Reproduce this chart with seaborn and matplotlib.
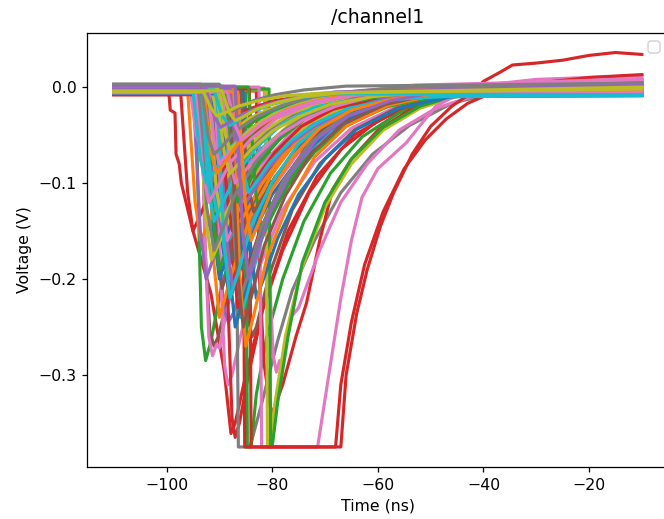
import matplotlib
matplotlib.use("Agg")
import matplotlib.pyplot as plt
import seaborn as sns
import pandas as pd

# ---- channel 1 waveforms: (time in ns, voltage in V) ----
trace_f01 = [(-110, -0.006), (-92.5, -0.006), (-91.1, -0.15), (-90.0, -0.20), (-88.5, -0.176), (-86.0, -0.132), (-82.0, -0.090), (-77.0, -0.054), (-71.0, -0.030), (-63.0, -0.016), (-53.0, -0.009), (-10, -0.004)]
trace_f02 = [(-110, -0.004), (-96.0, -0.004), (-94.6, -0.12), (-93.5, -0.16), (-92.0, -0.141), (-89.5, -0.106), (-85.5, -0.072), (-80.5, -0.043), (-74.5, -0.024), (-66.5, -0.013), (-56.5, -0.007), (-10, -0.002)]
trace_f03 = [(-110, -0.003), (-91.0, -0.003), (-89.6, -0.105), (-88.5, -0.14), (-87.0, -0.123), (-84.5, -0.092), (-80.5, -0.063), (-75.5, -0.038), (-69.5, -0.021), (-61.5, -0.011), (-51.5, -0.005), (-10, 0.002)]
trace_f04 = [(-110, -0.007), (-89.0, -0.007), (-87.6, -0.17), (-86.5, -0.23), (-85.0, -0.202), (-82.5, -0.152), (-78.5, -0.104), (-73.5, -0.062), (-67.5, -0.035), (-59.5, -0.018), (-49.5, -0.010), (-10, -0.005)]
trace_f05 = [(-110, -0.002), (-93.0, -0.002), (-91.6, -0.09), (-90.5, -0.12), (-89.0, -0.106), (-86.5, -0.079), (-82.5, -0.054), (-77.5, -0.032), (-71.5, -0.018), (-63.5, -0.009), (-53.5, -0.003), (-10, 0.004)]
trace_f06 = [(-110, -0.005), (-90.0, -0.005), (-88.6, -0.135), (-87.5, -0.18), (-86.0, -0.158), (-83.5, -0.119), (-79.5, -0.081), (-74.5, -0.049), (-68.5, -0.027), (-60.5, -0.014), (-50.5, -0.007), (-10, -0.001)]
trace_f07 = [(-110, -0.004), (-95.5, -0.004), (-94.4, -0.049), (-93.5, -0.065), (-92.0, -0.057), (-89.5, -0.043), (-85.5, -0.029), (-80.5, -0.018), (-74.5, -0.010), (-66.5, -0.006), (-56.5, -0.003), (-10, 0.003)]
trace_f08 = [(-110, 0.001), (-92.0, 0.001), (-90.4, -0.075), (-89.0, -0.10), (-87.5, -0.088), (-85.0, -0.066), (-81.0, -0.045), (-76.0, -0.027), (-70.0, -0.015), (-62.0, -0.006), (-52.0, -0.001), (-10, 0.003)]
trace_f09 = [(-110, -0.003), (-93.3, -0.003), (-91.5, -0.06), (-89.3, -0.10), (-87.8, -0.088), (-85.3, -0.066), (-81.3, -0.045), (-76.3, -0.027), (-70.3, -0.016), (-62.3, -0.008), (-52.3, -0.004), (-10, 0.000)]
trace_f10 = [(-110, -0.002), (-92.0, -0.002), (-90.4, -0.12), (-89.0, -0.17), (-87.5, -0.150), (-85.0, -0.112), (-81.0, -0.077), (-76.0, -0.046), (-70.0, -0.026), (-62.0, -0.013), (-52.0, -0.007), (-10, -0.006)]
trace_f11 = [(-110, -0.005), (-89.5, -0.005), (-88.1, -0.19), (-87.0, -0.25), (-85.5, -0.220), (-83.0, -0.165), (-79.0, -0.113), (-74.0, -0.068), (-68.0, -0.038), (-60.0, -0.019), (-50.0, -0.010), (-10, -0.007)]
trace_f12 = [(-110, -0.003), (-90.5, -0.003), (-89.1, -0.15), (-88.0, -0.20), (-86.5, -0.176), (-84.0, -0.132), (-80.0, -0.090), (-75.0, -0.054), (-69.0, -0.030), (-61.0, -0.015), (-51.0, -0.007), (-10, -0.002)]
trace_f13 = [(-110, -0.004), (-94.0, -0.004), (-92.6, -0.06), (-91.5, -0.08), (-90.0, -0.070), (-87.5, -0.053), (-83.5, -0.036), (-78.5, -0.022), (-72.5, -0.013), (-64.5, -0.008), (-54.5, -0.005), (-10, -0.004)]
trace_f14 = [(-110, -0.006), (-95.0, -0.006), (-93.6, -0.038), (-92.5, -0.05), (-91.0, -0.044), (-88.5, -0.033), (-84.5, -0.023), (-79.5, -0.014), (-73.5, -0.009), (-65.5, -0.006), (-55.5, -0.004), (-10, 0.001)]
trace_f15 = [(-110, 0.002), (-90.0, 0.002), (-88.6, -0.16), (-87.5, -0.21), (-86.0, -0.185), (-83.5, -0.139), (-79.5, -0.095), (-74.5, -0.057), (-68.5, -0.031), (-60.5, -0.013), (-50.5, -0.003), (-10, 0.005)]
trace_f16 = [(-110, -0.004), (-94.5, -0.004), (-93.1, -0.083), (-92.0, -0.11), (-90.5, -0.097), (-88.0, -0.073), (-84.0, -0.050), (-79.0, -0.030), (-73.0, -0.017), (-65.0, -0.009), (-55.0, -0.005), (-10, -0.002)]
trace_f17 = [(-110, -0.005), (-91.0, -0.005), (-89.6, -0.12), (-88.5, -0.16), (-87.0, -0.141), (-84.5, -0.106), (-80.5, -0.072), (-75.5, -0.043), (-69.5, -0.024), (-61.5, -0.011), (-51.5, -0.002), (-10, 0.006)]
trace_f18 = [(-110, 0.000), (-88.5, 0.000), (-87.1, -0.165), (-86.0, -0.22), (-84.5, -0.194), (-82.0, -0.145), (-78.0, -0.099), (-73.0, -0.059), (-67.0, -0.033), (-59.0, -0.015), (-49.0, -0.005), (-10, 0.000)]
trace_f19 = [(-110, -0.004), (-91.5, -0.004), (-89.9, -0.038), (-88.5, -0.05), (-87.0, -0.044), (-84.5, -0.033), (-80.5, -0.023), (-75.5, -0.014), (-69.5, -0.009), (-61.5, -0.006), (-51.5, -0.004), (-10, -0.003)]
trace_f20 = [(-110, -0.003), (-93.5, -0.003), (-92.1, -0.105), (-91.0, -0.14), (-89.5, -0.123), (-87.0, -0.092), (-83.0, -0.063), (-78.0, -0.038), (-72.0, -0.021), (-64.0, -0.012), (-54.0, -0.008), (-10, -0.008)]
trace_f21 = [(-110, -0.007), (-88.0, -0.007), (-86.6, -0.135), (-85.5, -0.18), (-84.0, -0.158), (-81.5, -0.119), (-77.5, -0.081), (-72.5, -0.049), (-66.5, -0.027), (-58.5, -0.015), (-48.5, -0.010), (-10, -0.009)]
trace_f22 = [(-110, -0.002), (-87.5, -0.002), (-86.1, -0.20), (-85.0, -0.27), (-83.5, -0.238), (-81.0, -0.178), (-77.0, -0.122), (-72.0, -0.073), (-66.0, -0.041), (-58.0, -0.019), (-48.0, -0.007), (-10, 0.000)]
trace_f23 = [(-110, -0.005), (-89.0, -0.005), (-87.6, -0.09), (-86.5, -0.12), (-85.0, -0.106), (-82.5, -0.079), (-78.5, -0.054), (-73.5, -0.032), (-67.5, -0.018), (-59.5, -0.010), (-49.5, -0.005), (-10, -0.003)]
trace_f24 = [(-110, -0.003), (-88.0, -0.003), (-86.6, -0.19), (-85.5, -0.25), (-84.0, -0.220), (-81.5, -0.165), (-77.5, -0.113), (-72.5, -0.068), (-66.5, -0.038), (-58.5, -0.018), (-48.5, -0.006), (-10, 0.002)]
trace_f25 = [(-110, -0.004), (-90.5, -0.004), (-89.1, -0.165), (-88.0, -0.22), (-86.5, -0.194), (-84.0, -0.145), (-80.0, -0.099), (-75.0, -0.059), (-69.0, -0.033), (-61.0, -0.016), (-51.0, -0.009), (-10, -0.007)]
trace_f26 = [(-110, 0.002), (-94.0, 0.002), (-92.4, -0.125), (-91.0, -0.17), (-89.5, -0.150), (-87.0, -0.112), (-83.0, -0.077), (-78.0, -0.046), (-72.0, -0.025), (-64.0, -0.011), (-54.0, -0.003), (-10, 0.002)]
trace_f27 = [(-110, -0.004), (-92.0, -0.004), (-90.9, -0.06), (-90.0, -0.08), (-88.5, -0.070), (-86.0, -0.053), (-82.0, -0.036), (-77.0, -0.022), (-71.0, -0.012), (-63.0, -0.004), (-53.0, 0.002), (-10, 0.008)]
trace_f28 = [(-110, -0.002), (-90.0, -0.002), (-88.9, -0.049), (-88.0, -0.065), (-86.5, -0.057), (-84.0, -0.043), (-80.0, -0.029), (-75.0, -0.018), (-69.0, -0.010), (-61.0, -0.005), (-51.0, -0.002), (-10, 0.001)]
trace_f29 = [(-110, -0.005), (-86.5, -0.005), (-85.1, -0.12), (-84.0, -0.16), (-82.5, -0.141), (-80.0, -0.106), (-76.0, -0.072), (-71.0, -0.043), (-65.0, -0.024), (-57.0, -0.012), (-47.0, -0.006), (-10, -0.004)]
trace_f30 = [(-110, 0.001), (-87.0, 0.001), (-85.6, -0.15), (-84.5, -0.20), (-83.0, -0.176), (-80.5, -0.132), (-76.5, -0.090), (-71.5, -0.054), (-65.5, -0.030), (-57.5, -0.014), (-47.5, -0.004), (-10, 0.003)]
trace_f31 = [(-110, -0.008), (-97.3, -0.008), (-96.0, -0.11), (-95.0, -0.15), (-93.5, -0.132), (-91.0, -0.099), (-87.0, -0.068), (-82.0, -0.041), (-76.0, -0.023), (-68.0, -0.013), (-58.0, -0.008), (-10, -0.006)]

trace_g01 = [(-110, -0.005), (-93.0, -0.005), (-91.6, -0.100), (-90.5, -0.13), (-89.0, -0.117), (-86.5, -0.094), (-82.5, -0.066), (-77.5, -0.044), (-71.5, -0.026), (-63.5, -0.015), (-53.5, -0.009), (-10, -0.007)]
trace_g02 = [(-110, -0.006), (-91.5, -0.006), (-89.9, -0.120), (-88.5, -0.16), (-87.0, -0.144), (-84.5, -0.115), (-80.5, -0.082), (-75.5, -0.054), (-69.5, -0.032), (-61.5, -0.018), (-51.5, -0.010), (-10, -0.008)]
trace_g03 = [(-110, -0.004), (-89.0, -0.004), (-87.4, -0.105), (-86.0, -0.14), (-84.5, -0.126), (-82.0, -0.101), (-78.0, -0.071), (-73.0, -0.048), (-67.0, -0.028), (-59.0, -0.014), (-49.0, -0.006), (-10, -0.001)]
trace_g04 = [(-110, -0.003), (-92.5, -0.003), (-91.1, -0.140), (-90.0, -0.19), (-88.5, -0.167), (-86.0, -0.125), (-82.0, -0.086), (-77.0, -0.051), (-71.0, -0.029), (-63.0, -0.014), (-53.0, -0.006), (-10, 0.001)]
trace_g05 = [(-110, -0.001), (-88.0, -0.001), (-86.4, -0.090), (-85.0, -0.12), (-83.5, -0.108), (-81.0, -0.086), (-77.0, -0.061), (-72.0, -0.041), (-66.0, -0.024), (-58.0, -0.011), (-48.0, -0.003), (-10, 0.005)]
trace_g06 = [(-110, -0.006), (-92.0, -0.006), (-90.6, -0.160), (-89.5, -0.21), (-88.0, -0.185), (-85.5, -0.139), (-81.5, -0.095), (-76.5, -0.057), (-70.5, -0.032), (-62.5, -0.016), (-52.5, -0.008), (-10, -0.004)]
trace_g07 = [(-110, -0.003), (-89.5, -0.003), (-88.1, -0.075), (-87.0, -0.10), (-85.5, -0.090), (-83.0, -0.072), (-79.0, -0.051), (-74.0, -0.034), (-68.0, -0.020), (-60.0, -0.008), (-50.0, 0.001), (-10, 0.009)]
trace_g08 = [(-110, 0.003), (-93.5, 0.003), (-92.1, -0.052), (-91.0, -0.07), (-89.5, -0.062), (-87.0, -0.046), (-83.0, -0.031), (-78.0, -0.019), (-72.0, -0.010), (-64.0, -0.004), (-54.0, 0.000), (-10, 0.004)]
trace_g09 = [(-110, -0.005), (-90.5, -0.005), (-89.1, -0.068), (-88.0, -0.09), (-86.5, -0.081), (-84.0, -0.065), (-80.0, -0.046), (-75.0, -0.031), (-69.0, -0.018), (-61.0, -0.010), (-51.0, -0.005), (-10, -0.001)]
trace_g10 = [(-110, -0.004), (-87.0, -0.004), (-85.6, -0.083), (-84.5, -0.11), (-83.0, -0.099), (-80.5, -0.079), (-76.5, -0.056), (-71.5, -0.037), (-65.5, -0.022), (-57.5, -0.013), (-47.5, -0.010), (-10, -0.009)]
trace_g11 = [(-110, -0.007), (-91.0, -0.007), (-89.4, -0.165), (-88.0, -0.22), (-86.5, -0.198), (-84.0, -0.158), (-80.0, -0.112), (-75.0, -0.075), (-69.0, -0.044), (-61.0, -0.022), (-51.0, -0.010), (-10, -0.006)]
trace_g12 = [(-110, -0.002), (-93.0, -0.002), (-91.6, -0.068), (-90.5, -0.09), (-89.0, -0.079), (-86.5, -0.059), (-82.5, -0.041), (-77.5, -0.024), (-71.5, -0.014), (-63.5, -0.006), (-53.5, -0.001), (-10, 0.003)]
trace_g13 = [(-110, -0.006), (-87.5, -0.006), (-86.1, -0.150), (-85.0, -0.20), (-83.5, -0.180), (-81.0, -0.144), (-77.0, -0.102), (-72.0, -0.068), (-66.0, -0.040), (-58.0, -0.020), (-48.0, -0.009), (-10, -0.006)]
trace_g14 = [(-110, -0.008), (-90.0, -0.008), (-88.6, -0.110), (-87.5, -0.15), (-86.0, -0.132), (-83.5, -0.099), (-79.5, -0.068), (-74.5, -0.041), (-68.5, -0.023), (-60.5, -0.013), (-50.5, -0.009), (-10, -0.007)]
trace_g15 = [(-110, 0.002), (-92.5, 0.002), (-90.9, -0.110), (-89.5, -0.15), (-88.0, -0.135), (-85.5, -0.108), (-81.5, -0.077), (-76.5, -0.051), (-70.5, -0.030), (-62.5, -0.014), (-52.5, -0.005), (-10, 0.003)]
trace_g16 = [(-110, -0.004), (-86.0, -0.004), (-84.6, -0.100), (-83.5, -0.13), (-82.0, -0.117), (-79.5, -0.094), (-75.5, -0.066), (-70.5, -0.044), (-64.5, -0.026), (-56.5, -0.013), (-46.5, -0.006), (-10, -0.003)]
trace_g17 = [(-110, -0.006), (-94.5, -0.006), (-93.1, -0.090), (-92.0, -0.12), (-90.5, -0.106), (-88.0, -0.079), (-84.0, -0.054), (-79.0, -0.032), (-73.0, -0.018), (-65.0, -0.009), (-55.0, -0.003), (-10, 0.002)]
trace_g18 = [(-110, 0.001), (-89.5, 0.001), (-87.9, -0.125), (-86.5, -0.17), (-85.0, -0.153), (-82.5, -0.122), (-78.5, -0.087), (-73.5, -0.058), (-67.5, -0.034), (-59.5, -0.016), (-49.5, -0.006), (-10, 0.001)]
trace_g19 = [(-110, -0.004), (-92.0, -0.004), (-90.6, -0.105), (-89.5, -0.14), (-88.0, -0.123), (-85.5, -0.092), (-81.5, -0.063), (-76.5, -0.038), (-70.5, -0.021), (-62.5, -0.011), (-52.5, -0.005), (-10, -0.002)]
trace_g20 = [(-110, -0.003), (-89.0, -0.003), (-87.4, -0.180), (-86.0, -0.24), (-84.5, -0.211), (-82.0, -0.158), (-78.0, -0.108), (-73.0, -0.065), (-67.0, -0.036), (-59.0, -0.018), (-49.0, -0.010), (-10, -0.008)]
trace_g21 = [(-110, -0.005), (-85.5, -0.005), (-84.1, -0.165), (-83.0, -0.22), (-81.5, -0.198), (-79.0, -0.158), (-75.0, -0.112), (-70.0, -0.075), (-64.0, -0.044), (-56.0, -0.022), (-46.0, -0.010), (-10, -0.005)]
trace_g22 = [(-110, -0.003), (-92.5, -0.003), (-91.1, -0.180), (-90.0, -0.24), (-88.5, -0.211), (-86.0, -0.158), (-82.0, -0.108), (-77.0, -0.065), (-71.0, -0.036), (-63.0, -0.017), (-53.0, -0.007), (-10, -0.002)]
trace_g23 = [(-110, -0.005), (-94.0, -0.005), (-92.6, -0.135), (-91.5, -0.18), (-90.0, -0.162), (-87.5, -0.130), (-83.5, -0.092), (-78.5, -0.061), (-72.5, -0.036), (-64.5, -0.018), (-54.5, -0.008), (-10, -0.003)]
trace_g24 = [(-110, -0.004), (-95.0, -0.004), (-93.6, -0.075), (-92.5, -0.10), (-91.0, -0.088), (-88.5, -0.066), (-84.5, -0.045), (-79.5, -0.027), (-73.5, -0.015), (-65.5, -0.008), (-55.5, -0.006), (-10, -0.006)]
trace_g25 = [(-110, 0.000), (-84.5, 0.000), (-83.1, -0.110), (-82.0, -0.15), (-80.5, -0.135), (-78.0, -0.108), (-74.0, -0.077), (-69.0, -0.051), (-63.0, -0.030), (-55.0, -0.014), (-45.0, -0.004), (-10, 0.002)]
trace_g26 = [(-110, -0.003), (-95.0, -0.003), (-93.6, -0.150), (-92.5, -0.20), (-91.0, -0.176), (-88.5, -0.132), (-84.5, -0.090), (-79.5, -0.054), (-73.5, -0.030), (-65.5, -0.015), (-55.5, -0.006), (-10, -0.001)]

trace_s1 = [(-110, -0.005), (-93.0, -0.005), (-91.6, -0.022), (-90.5, -0.030), (-89.0, -0.027), (-86.5, -0.020), (-82.5, -0.014), (-77.5, -0.009), (-70.0, -0.006), (-10, 0.000)]
trace_s2 = [(-110, -0.003), (-91.0, -0.003), (-89.5, -0.030), (-88.0, -0.040), (-86.5, -0.035), (-84.0, -0.026), (-80.0, -0.018), (-75.0, -0.011), (-68.0, -0.007), (-10, -0.008)]
trace_s3 = [(-110, 0.003), (-90.0, 0.003), (-88.6, -0.018), (-87.5, -0.025), (-86.0, -0.021), (-83.5, -0.014), (-79.5, -0.008), (-74.0, -0.003), (-66.0, 0.001), (-10, 0.004)]
trace_s4 = [(-110, -0.004), (-89.5, -0.004), (-88.1, -0.027), (-87.0, -0.035), (-85.5, -0.031), (-83.0, -0.023), (-79.0, -0.016), (-74.0, -0.010), (-67.0, -0.006), (-10, -0.002)]
trace_s5 = [(-110, -0.002), (-92.5, -0.002), (-91.0, -0.030), (-89.8, -0.042), (-88.2, -0.037), (-85.5, -0.028), (-81.5, -0.019), (-76.0, -0.011), (-68.0, -0.005), (-10, 0.002)]
trace_s6 = [(-110, -0.005), (-88.5, -0.005), (-87.0, -0.040), (-85.8, -0.055), (-84.2, -0.048), (-81.5, -0.036), (-77.5, -0.025), (-72.0, -0.015), (-64.0, -0.008), (-10, -0.005)]

trace_d01 = [(-110, -0.003), (-94.5, -0.003), (-94.0, -0.12), (-93.4, -0.25), (-92.6, -0.285), (-91.6, -0.265), (-89.5, -0.205), (-86.0, -0.145), (-81.5, -0.095), (-76.0, -0.058), (-69.0, -0.030), (-60.0, -0.013), (-50.0, -0.005), (-10, -0.001)]
trace_d02 = [(-110, -0.002), (-93.3, -0.002), (-92.8, -0.15), (-92.0, -0.26), (-91.3, -0.28), (-90.5, -0.268), (-90.0, -0.272), (-88.5, -0.23), (-85.0, -0.165), (-80.5, -0.11), (-75.0, -0.068), (-68.0, -0.036), (-59.0, -0.016), (-49.0, -0.006), (-10, 0.004)]
trace_d03 = [(-110, -0.006), (-93.3, -0.006), (-92.7, -0.17), (-91.8, -0.255), (-91.0, -0.27), (-90.2, -0.26), (-88.0, -0.21), (-84.5, -0.15), (-80.0, -0.10), (-74.5, -0.062), (-67.5, -0.033), (-58.5, -0.015), (-48.5, -0.007), (-10, -0.003)]
trace_d04 = [(-110, 0.001), (-91.0, 0.001), (-90.2, -0.15), (-89.2, -0.23), (-88.3, -0.245), (-87.3, -0.235), (-85.0, -0.19), (-81.5, -0.14), (-77.0, -0.095), (-71.5, -0.058), (-64.5, -0.031), (-55.5, -0.013), (-45.5, -0.004), (-10, 0.004)]
trace_d05 = [(-110, -0.005), (-90.5, -0.005), (-89.9, -0.18), (-89.0, -0.29), (-88.4, -0.31), (-87.6, -0.30), (-86.0, -0.26), (-83.0, -0.195), (-78.0, -0.128), (-72.0, -0.078), (-65.0, -0.043), (-56.0, -0.019), (-46.0, -0.007), (-10, 0.005)]
trace_d06 = [(-110, -0.003), (-99.6, -0.003), (-99.3, -0.024), (-98.4, -0.027), (-98.2, -0.070), (-97.6, -0.080), (-97.2, -0.100), (-95.0, -0.150), (-92.9, -0.190), (-91.6, -0.215), (-89.1, -0.295), (-87.8, -0.361), (-87.0, -0.35), (-85.0, -0.30), (-82.0, -0.235), (-78.0, -0.17), (-73.0, -0.11), (-67.0, -0.065), (-60.0, -0.035), (-52.0, -0.016), (-43.0, -0.005), (-10, 0.000)]
trace_d07 = [(-110, -0.006), (-89.0, -0.006), (-88.4, -0.22), (-87.6, -0.345), (-87.0, -0.365), (-86.2, -0.35), (-84.5, -0.30), (-81.5, -0.225), (-77.0, -0.15), (-71.5, -0.093), (-64.5, -0.050), (-55.5, -0.022), (-45.5, -0.008), (-10, -0.004)]
trace_d08 = [(-110, -0.004), (-85.8, -0.004), (-85.2, -0.16), (-84.4, -0.245), (-83.8, -0.26), (-83.0, -0.25), (-80.5, -0.195), (-76.2, -0.128), (-71.0, -0.080), (-64.5, -0.045), (-56.5, -0.022), (-47.0, -0.009), (-38.0, -0.003), (-10, 0.001)]
trace_d09 = [(-110, -0.001), (-87.0, -0.001), (-86.4, -0.375), (-84.2, -0.375), (-82.0, -0.33), (-79.0, -0.265), (-76.2, -0.212), (-72.0, -0.16), (-67.0, -0.11), (-61.0, -0.07), (-54.0, -0.04), (-46.0, -0.017), (-38.0, -0.006), (-10, -0.002)]
trace_d10 = [(-110, -0.004), (-85.0, -0.004), (-84.7, -0.375), (-84.0, -0.375), (-83.0, -0.32), (-81.0, -0.26), (-78.0, -0.20), (-74.0, -0.14), (-69.0, -0.09), (-63.0, -0.052), (-56.0, -0.027), (-48.0, -0.011), (-40.0, -0.004), (-10, -0.004)]
trace_d11 = [(-110, -0.003), (-81.2, -0.003), (-80.9, -0.375), (-80.5, -0.375), (-79.5, -0.33), (-77.5, -0.26), (-74.5, -0.19), (-70.0, -0.125), (-65.0, -0.08), (-59.0, -0.045), (-52.0, -0.022), (-44.0, -0.008), (-36.0, -0.002), (-10, 0.000)]
trace_d12 = [(-110, -0.002), (-80.6, -0.002), (-80.3, -0.375), (-80.0, -0.375), (-79.0, -0.33), (-77.0, -0.26), (-74.3, -0.183), (-70.0, -0.12), (-65.0, -0.075), (-59.0, -0.042), (-52.0, -0.020), (-44.0, -0.007), (-10, -0.003)]
trace_d13 = [(-110, -0.004), (-83.0, -0.004), (-82.4, -0.20), (-81.5, -0.29), (-80.3, -0.335), (-80.0, -0.34), (-78.0, -0.31), (-75.5, -0.26), (-73.5, -0.225), (-71.0, -0.16), (-68.6, -0.107), (-65.0, -0.075), (-60.0, -0.045), (-54.0, -0.024), (-46.0, -0.010), (-38.0, -0.003), (-10, -0.001)]
trace_d14 = [(-110, -0.001), (-81.5, -0.001), (-80.5, -0.20), (-79.8, -0.28), (-79.2, -0.297), (-78.6, -0.285), (-78.2, -0.29), (-76.5, -0.24), (-75.0, -0.23), (-71.0, -0.17), (-67.0, -0.12), (-62.0, -0.08), (-56.0, -0.045), (-49.0, -0.022), (-41.0, -0.008), (-10, 0.008)]
trace_d15 = [(-110, 0.000), (-82.5, 0.000), (-82.0, -0.375), (-71.4, -0.375), (-69.0, -0.29), (-67.0, -0.22), (-65.0, -0.16), (-63.0, -0.115), (-60.0, -0.085), (-57.0, -0.07), (-54.6, -0.058), (-52.0, -0.04), (-49.0, -0.02), (-45.0, -0.008), (-40.0, 0.002), (-30.0, 0.008), (-10, 0.012)]
trace_d16 = [(-110, -0.004), (-85.6, -0.004), (-85.2, -0.375), (-68.0, -0.375), (-67.0, -0.31), (-65.0, -0.245), (-62.5, -0.185), (-59.0, -0.13), (-55.0, -0.085), (-51.0, -0.055), (-47.0, -0.033), (-43.0, -0.017), (-38.0, -0.005), (-30.0, 0.004), (-20.0, 0.010), (-10, 0.013)]
trace_d17 = [(-110, -0.002), (-84.3, -0.002), (-84.0, -0.375), (-67.0, -0.375), (-66.0, -0.30), (-64.0, -0.236), (-62.0, -0.19), (-59.5, -0.145), (-57.0, -0.11), (-53.5, -0.07), (-50.0, -0.041), (-46.0, -0.02), (-42.0, -0.005), (-40.0, 0.006), (-37.0, 0.015), (-34.5, 0.023), (-30.0, 0.025), (-25.0, 0.028), (-20.0, 0.033), (-15.0, 0.036), (-10, 0.034)]

# drawing order (first drawn sits underneath) and tab10 colour index of each waveform
traces = {
    "d06": (trace_d06, 3), "d01": (trace_d01, 2), "d03": (trace_d03, 5),
    "d02": (trace_d02, 6), "d04": (trace_d04, 4), "d05": (trace_d05, 6),
    "d07": (trace_d07, 3), "d08": (trace_d08, 5), "d09": (trace_d09, 7),
    "d10": (trace_d10, 2), "d13": (trace_d13, 3), "d14": (trace_d14, 6),
    "d11": (trace_d11, 8), "d12": (trace_d12, 2), "d15": (trace_d15, 6),
    "d16": (trace_d16, 3), "d17": (trace_d17, 3),
    "g20": (trace_g20, 9), "g22": (trace_g22, 1), "g11": (trace_g11, 0),
    "g21": (trace_g21, 0), "g13": (trace_g13, 2), "g06": (trace_g06, 5),
    "f31": (trace_f31, 3), "f01": (trace_f01, 0), "f02": (trace_f02, 1),
    "f03": (trace_f03, 2), "f04": (trace_f04, 3), "f05": (trace_f05, 4),
    "g26": (trace_g26, 4), "g04": (trace_g04, 2), "g18": (trace_g18, 7),
    "f06": (trace_f06, 5), "f07": (trace_f07, 6), "f08": (trace_f08, 7),
    "f09": (trace_f09, 8), "f10": (trace_f10, 9), "f11": (trace_f11, 0),
    "g02": (trace_g02, 0), "g15": (trace_g15, 4), "g23": (trace_g23, 8),
    "f12": (trace_f12, 1), "f13": (trace_f13, 2), "f14": (trace_f14, 3),
    "f15": (trace_f15, 4), "f16": (trace_f16, 5), "f17": (trace_f17, 6),
    "g01": (trace_g01, 9), "g03": (trace_g03, 1), "g14": (trace_g14, 3),
    "g19": (trace_g19, 8), "g25": (trace_g25, 2), "g16": (trace_g16, 5),
    "f18": (trace_f18, 7), "f19": (trace_f19, 8), "f20": (trace_f20, 9),
    "f21": (trace_f21, 0), "f22": (trace_f22, 1), "f23": (trace_f23, 2),
    "f24": (trace_f24, 5), "f25": (trace_f25, 9), "f26": (trace_f26, 7),
    "g05": (trace_g05, 4), "g10": (trace_g10, 9), "g17": (trace_g17, 6),
    "g24": (trace_g24, 9), "g07": (trace_g07, 6), "g09": (trace_g09, 8),
    "f27": (trace_f27, 6), "f28": (trace_f28, 8), "f29": (trace_f29, 1),
    "f30": (trace_f30, 4), "g12": (trace_g12, 1), "g08": (trace_g08, 7),
    "s6": (trace_s6, 6), "s2": (trace_s2, 9), "s3": (trace_s3, 7),
    "s5": (trace_s5, 4), "s1": (trace_s1, 8), "s4": (trace_s4, 8),
}

rows = []
for name, (pts, _) in traces.items():
    for t, v in pts:
        rows.append({"trace": name, "Time (ns)": t, "Voltage (V)": v})
df = pd.DataFrame(rows)
order = list(traces.keys())
tab10 = sns.color_palette("tab10")
palette = {name: tab10[c] for name, (_, c) in traces.items()}

fig = plt.figure(figsize=(664 / 113, 519 / 113), dpi=113)
ax = fig.add_axes([0.1315, 0.1008, 0.875, 0.836])

sns.lineplot(data=df, x="Time (ns)", y="Voltage (V)", hue="trace", hue_order=order,
             palette=palette, estimator=None, sort=False, legend=False,
             linewidth=2.0, ax=ax)

ax.set_title("/channel1")
ax.set_xlabel("Time (ns)")
ax.set_ylabel("Voltage (V)")
ax.legend(handles=[], loc="upper right")

fig.savefig("out.png", dpi=113)
